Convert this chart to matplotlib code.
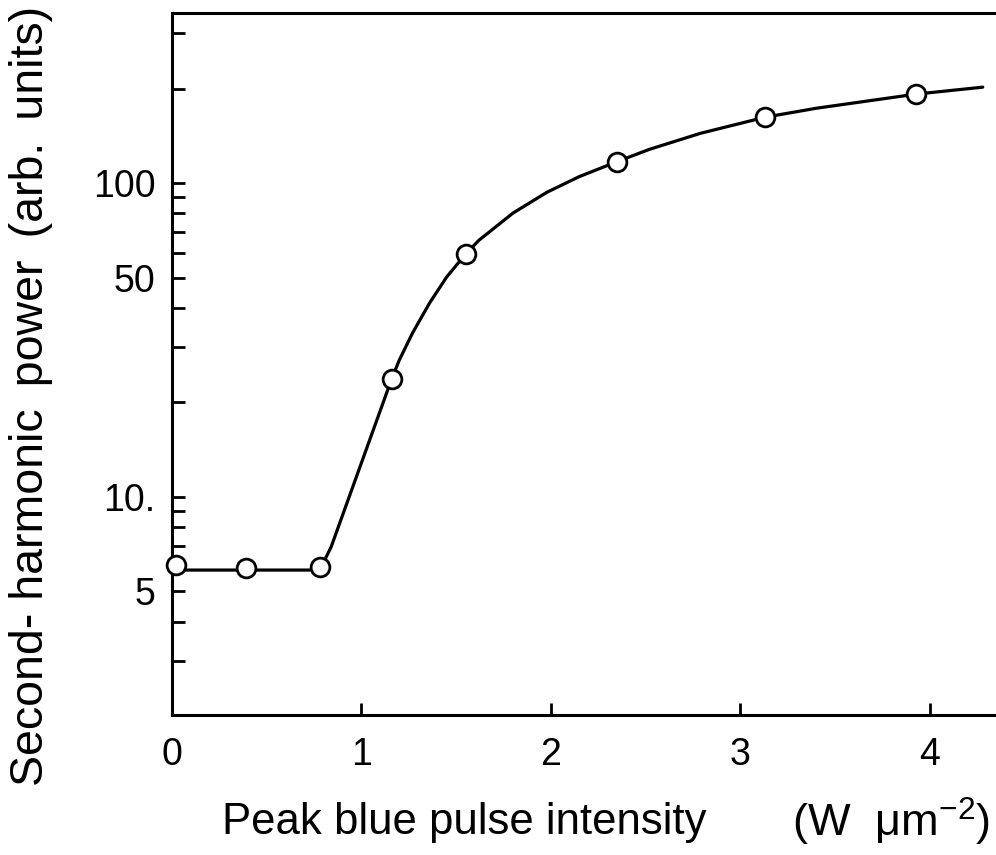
import matplotlib
matplotlib.use("Agg")
import matplotlib.pyplot as plt
from matplotlib.ticker import FixedLocator, NullFormatter

plt.rcParams['font.family'] = ['Liberation Sans', 'DejaVu Sans']
plt.rcParams['mathtext.fontset'] = 'custom'
plt.rcParams['mathtext.rm'] = 'Liberation Sans'
plt.rcParams['mathtext.it'] = 'Liberation Sans:italic'

# measured points (circles)
intensity = [0.02, 0.39, 0.78, 1.16, 1.55, 2.35, 3.13, 3.93]
sh_power = [6.07, 5.95, 6.0, 23.8, 59.4, 117, 162, 192]

# hand drawn guide curve
curve_x = [0.0, 0.78, 0.84, 1.16, 1.20, 1.27, 1.36, 1.45, 1.55, 1.62,
           1.80, 1.98, 2.15, 2.35, 2.52, 2.79, 3.13, 3.40, 3.93, 4.28]
curve_y = [5.85, 5.85, 6.93, 23.8, 27.3, 33.3, 41.5, 50.2, 59.4, 65.7,
           80.2, 93.5, 104.8, 117, 128, 144, 162, 173, 192, 202]

xticks = [0, 1, 2, 3, 4]
yticks = [5, 10, 50, 100]
ytick_labels = ['5', '10.', '50', '100']
yminor = [3, 4, 6, 7, 8, 9, 20, 30, 40, 60, 70, 80, 90, 200, 300]

fig = plt.figure(figsize=(9.96, 8.55), dpi=100)
ax = fig.add_axes([0.1727, 0.1637, 0.8273, 0.8211])

ax.plot(curve_x, curve_y, color='black', lw=2.3, solid_capstyle='round',
        solid_joinstyle='round', zorder=2)
ax.plot(intensity, sh_power, 'o', ms=13.5, mfc='white', mec='black', mew=2.0,
        zorder=3, clip_on=False)

ax.set_yscale('log')
ax.set_xlim(0, 4.35)
ax.set_ylim(2.02, 348)

ax.xaxis.set_major_locator(FixedLocator(xticks))
ax.set_xticklabels([str(t) for t in xticks])
ax.yaxis.set_major_locator(FixedLocator(yticks))
ax.set_yticklabels(ytick_labels)
ax.yaxis.set_minor_locator(FixedLocator(yminor))
ax.yaxis.set_minor_formatter(NullFormatter())

ax.tick_params(axis='both', which='both', direction='in', length=9, width=2,
               labelsize=27, top=False, right=False)
ax.tick_params(axis='x', pad=16)
ax.tick_params(axis='y', pad=12)

for s in ['left', 'bottom', 'top']:
    ax.spines[s].set_linewidth(2.2)
ax.spines['right'].set_visible(False)

fig.text(31 / 996, 1 - 396 / 855,
         'Second- harmonic\u2009 power\u2009 (arb.\u2009 units)',
         rotation=90, ha='center', va='center', fontsize=33.5,
         family=['Liberation Sans', 'DejaVu Sans'])
fig.text(222 / 996, 1 - 822 / 855, 'Peak blue pulse intensity',
         ha='left', va='center', fontsize=31.5)
fig.text(990 / 996, 1 - 822 / 855, r'(W  μm$^{-2}$)',
         ha='right', va='center', fontsize=32.5)

fig.savefig('out.png', dpi=100)
